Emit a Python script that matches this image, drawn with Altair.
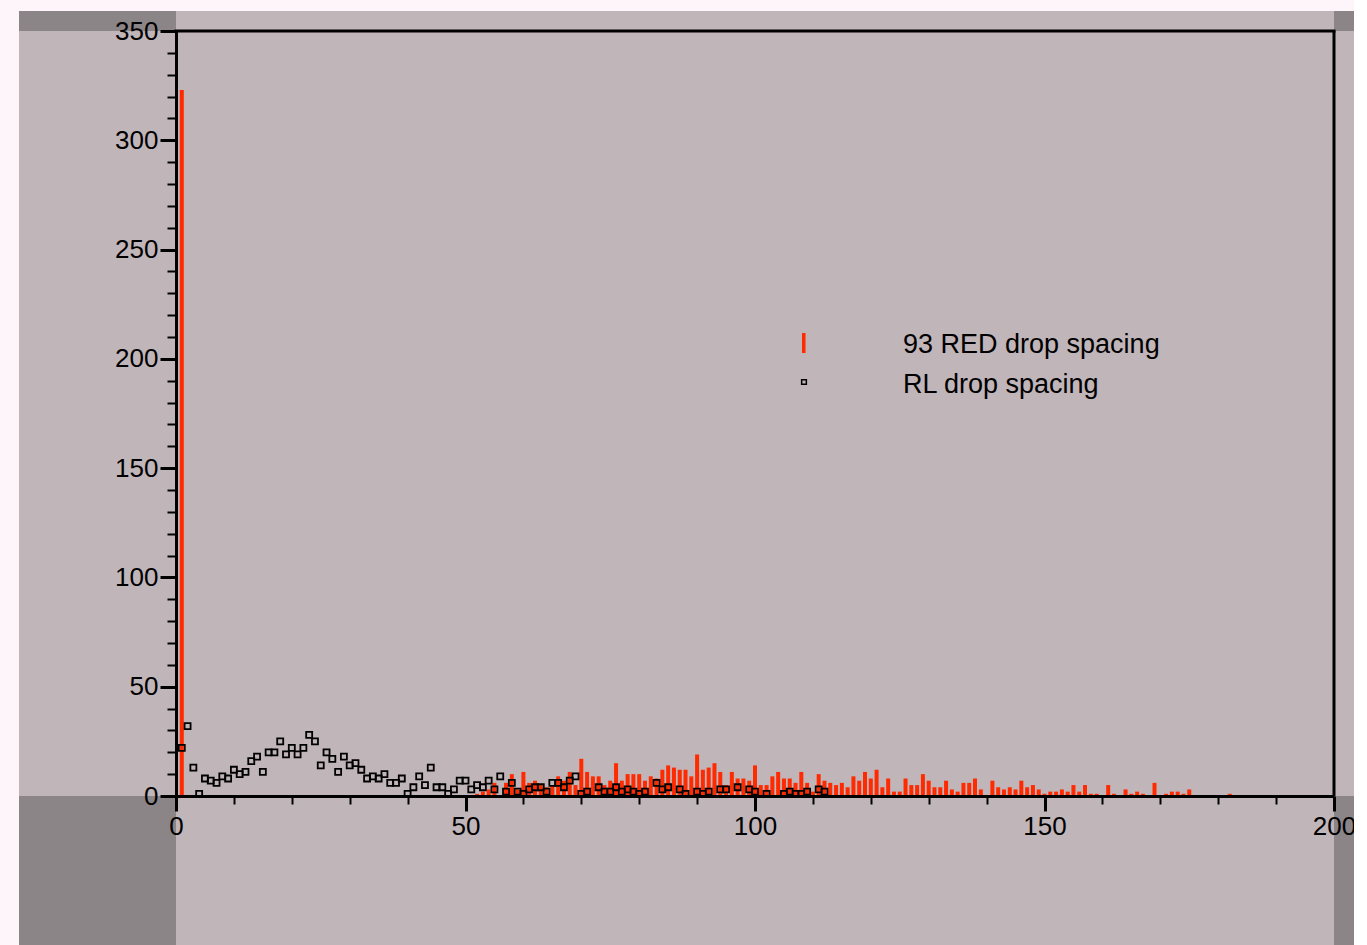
import altair as alt
import pandas as pd

# ---------------- data ----------------
red_x = [1, 52, 53, 54, 55, 57, 58, 59, 60, 61, 62, 63, 64, 65, 66, 67, 68, 69, 70,
         71, 72, 73, 74, 75, 76, 77, 78, 79, 80, 81, 82, 83, 84, 85, 86, 87, 88, 89, 90,
         91, 92, 93, 94, 95, 96, 97, 98, 99, 100, 101, 102, 103, 104, 105, 106, 107, 108,
         109, 110, 111, 112, 113, 114, 115, 116, 117, 118, 119, 120, 121, 122, 123, 124,
         125, 126, 127, 128, 129, 130, 131, 132, 133, 134, 135, 136, 137, 138, 139, 141,
         142, 143, 144, 145, 146, 147, 148, 149, 150, 151, 152, 153, 154, 155, 156, 157,
         158, 159, 161, 162, 164, 165, 166, 167, 169, 171, 172, 173, 174, 175, 182]
red_y = [323, 1, 2, 3, 6, 6, 10, 3, 11, 6, 7, 5, 4, 5, 9, 7, 11, 5, 17,
         11, 9, 9, 5, 7, 15, 7, 10, 10, 10, 7, 9, 8, 12, 14, 13, 12, 12, 9, 19,
         12, 13, 15, 11, 5, 11, 8, 8, 7, 14, 5, 5, 9, 11, 8, 8, 6, 11,
         6, 2, 10, 7, 6, 5, 6, 4, 9, 7, 11, 8, 12, 4, 8, 2,
         2, 8, 5, 5, 10, 7, 4, 4, 7, 3, 2, 6, 6, 8, 3, 7,
         4, 3, 4, 3, 7, 4, 5, 3, 1, 2, 2, 3, 2, 5, 2, 5,
         1, 1, 5, 1, 3, 1, 2, 1, 6, 1, 2, 2, 1, 3, 1]

rl_x = [1, 2, 3, 4, 5, 6, 7, 8, 9, 10, 11, 12, 13, 14, 15, 16, 17, 18, 19, 20,
        21, 22, 23, 24, 25, 26, 27, 28, 29, 30, 31, 32, 33, 34, 35, 36, 37, 38, 39, 40,
        41, 42, 43, 44, 45, 46, 47, 48, 49, 50, 51, 52, 53, 54, 55, 56, 57, 58, 59, 60,
        61, 62, 63, 64, 65, 66, 67, 68, 69, 70, 71, 73, 74, 75, 76, 77, 78, 79, 80, 81,
        83, 84, 85, 87, 88, 90, 91, 92, 94, 95, 97, 99, 100, 102, 105, 106, 107, 108,
        109, 111, 112]
rl_y = [22, 32, 13, 1, 8, 7, 6, 9, 8, 12, 10, 11, 16, 18, 11, 20, 20, 25, 19, 22,
        19, 22, 28, 25, 14, 20, 17, 11, 18, 14, 15, 12, 8, 9, 8, 10, 6, 6, 8, 1,
        4, 9, 5, 13, 4, 4, 1, 3, 7, 7, 3, 5, 4, 7, 3, 9, 2, 6, 2, 1,
        3, 4, 4, 2, 6, 6, 4, 7, 9, 1, 2, 4, 2, 2, 4, 2, 3, 2, 1, 2,
        6, 3, 4, 3, 1, 2, 1, 2, 3, 3, 4, 3, 2, 1, 1, 2, 1, 1,
        2, 3, 2]

x_ticks = list(range(0, 201, 10))
y_ticks = list(range(0, 351, 10))
legend_labels = ["93 RED drop spacing", "RL drop spacing"]

RED = "#ff2a00"
MAUVE = "#c0b5b9"
DARK = "#8c8588"
PINK = "#fef5fb"
FONT = "Liberation Sans"

W, H = 1158, 765

red_df = pd.DataFrame({"x": red_x, "v": red_y})
rl_df = pd.DataFrame({"x": rl_x, "v": rl_y})
one = alt.Data(values=[{"a": 1}])

x_axis = alt.Axis(
    values=x_ticks, title=None, grid=False, zindex=1,
    domainColor="black", domainWidth=3,
    tickColor="black",
    tickSize={"condition": {"test": "datum.value % 50 === 0", "value": 15}, "value": 8},
    tickWidth={"condition": {"test": "datum.value % 50 === 0", "value": 3}, "value": 2},
    labelExpr="datum.value % 50 === 0 ? datum.label : ''",
    labelFont=FONT, labelFontSize=26, labelColor="black",
    labelPadding=2, labelFlush=False, labelOverlap=False,
)
y_axis = alt.Axis(
    values=y_ticks, title=None, grid=False, zindex=1,
    domainColor="black", domainWidth=3,
    tickColor="black",
    tickSize={"condition": {"test": "datum.value % 50 === 0", "value": 16}, "value": 9},
    tickWidth={"condition": {"test": "datum.value % 50 === 0", "value": 3}, "value": 2},
    labelExpr="datum.value % 50 === 0 ? datum.label : ''",
    labelFont=FONT, labelFontSize=26, labelColor="black",
    labelPadding=2, labelFlush=False, labelOverlap=False,
)
xs = alt.Scale(domain=[0, 200], nice=False, zero=True, padding=0)
ys = alt.Scale(domain=[0, 350], nice=False, zero=True, padding=0)


def panel(x1, x2, y1, y2, color):
    return alt.Chart(one).mark_rect(color=color, strokeWidth=0).encode(
        x=alt.value(x1), x2=alt.value(x2), y=alt.value(y1), y2=alt.value(y2))


bg = panel(-157, 1178, -20, 914, MAUVE)
d1 = panel(-157, 0, -20, 0, DARK)
d2 = panel(-157, 0, H, 914, DARK)
d3 = panel(W, 1178, -20, 0, DARK)
d4 = panel(W, 1178, H, 914, DARK)

bars = alt.Chart(red_df).mark_bar(size=4, color=RED).encode(
    x=alt.X("x:Q", scale=xs, axis=x_axis),
    y=alt.Y("v:Q", scale=ys, axis=y_axis),
)
pts = alt.Chart(rl_df).mark_point(shape="square", filled=False, size=36,
                                   strokeWidth=1.8, color="black", opacity=1).encode(
    x=alt.X("x:Q", scale=xs, axis=x_axis),
    y=alt.Y("v:Q", scale=ys, axis=y_axis),
)

top_line = alt.Chart(one).mark_rule(color="black", strokeWidth=3).encode(
    x=alt.value(-1.5), x2=alt.value(W + 1.5), y=alt.value(0))
right_line = alt.Chart(one).mark_rule(color="black", strokeWidth=3).encode(
    x=alt.value(W), y=alt.value(0), y2=alt.value(H))

leg_red = alt.Chart(one).mark_rect(color=RED).encode(
    x=alt.value(626), x2=alt.value(629.5), y=alt.value(302), y2=alt.value(322))
leg_sq = alt.Chart(one).mark_point(shape="square", filled=False, size=22,
                                    strokeWidth=1.5, color="black", opacity=1).encode(
    x=alt.value(628), y=alt.value(351))
leg_t1 = alt.Chart(one).mark_text(text=legend_labels[0], font=FONT, fontSize=27,
                                   align="left", baseline="alphabetic", color="black").encode(
    x=alt.value(727), y=alt.value(321.5))
leg_t2 = alt.Chart(one).mark_text(text=legend_labels[1], font=FONT, fontSize=27,
                                   align="left", baseline="alphabetic", color="black").encode(
    x=alt.value(727), y=alt.value(361.5))

chart = alt.layer(
    bg, d1, d2, d3, d4, bars, pts, top_line, right_line,
    leg_red, leg_sq, leg_t1, leg_t2,
).properties(
    width=W, height=H,
    autosize=alt.AutoSizeParams(type="none"),
    padding={"left": 176, "top": 31, "right": 20, "bottom": 149},
    background=PINK,
).configure_view(stroke=None)

chart.save("out.html", embed_options={"renderer": "svg", "actions": False})
